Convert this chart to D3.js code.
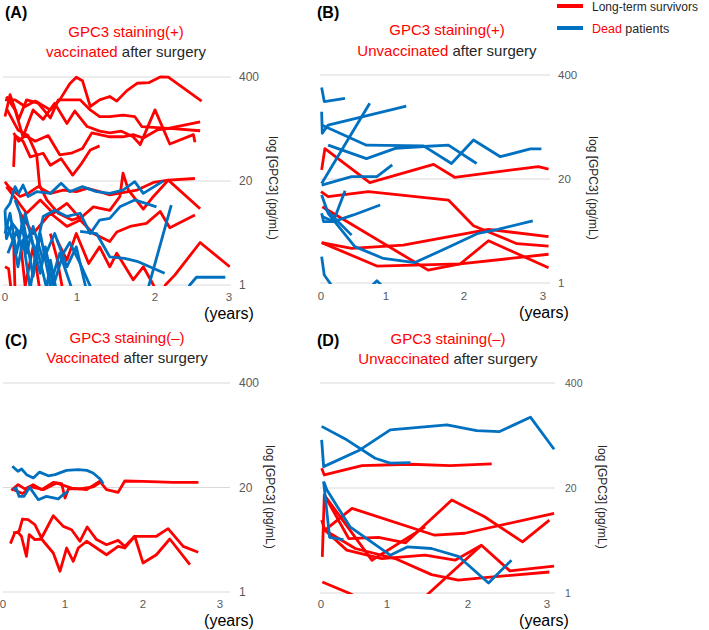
<!DOCTYPE html>
<html>
<head>
<meta charset="utf-8">
<script src="https://cdn.jsdelivr.net/npm/d3@7"></script>
<style>
  html, body { margin: 0; padding: 0; background: #ffffff; }
  svg { display: block; font-family: "Liberation Sans", Arial, sans-serif; }
</style>
</head>
<body>
<script>
// ---------------- DATA ----------------
const xTicks = [0, 1, 2, 3];
const yTicks = [1, 20, 400];
const panelLetters = ["(A)", "(B)", "(C)", "(D)"];
const titleLine1 = ["GPC3 staining(+)", "GPC3 staining(+)", "GPC3 staining(\u2013)", "GPC3 staining(\u2013)"];
const titleWord = ["vaccinated", "Unvaccinated", "Vaccinated", "Unvaccinated"];
const titleRest = " after surgery";
const yAxisTitle = "log [GPC3] (pg/mL)";
const xAxisTitle = "(years)";
const legendRed = "Long-term survivors";
const legendBlueWord = "Dead";
const legendBlueRest = " patients";

// series: [years after surgery, GPC3 pg/mL]
const A_red = [
  [[0,207],[0.14,207],[0.28,171],[0.42,200],[0.63,155],[0.76,207],[0.90,330],[0.99,398],[1.07,360],[1.17,171],[1.29,207],[1.42,228],[1.51,200],[1.64,270],[1.77,334],[1.92,340],[2.07,400],[2.18,398],[2.63,200]],
  [[0,128],[0.07,240],[0.19,118],[0.30,207],[0.46,188],[0.63,123],[0.74,207],[0.90,207],[1.04,207],[1.17,155],[1.29,128],[1.42,128],[1.59,133],[1.74,128],[1.83,96],[2.18,91],[2.61,110]],
  [[0.02,228],[0.14,155],[0.25,71.5],[0.39,155],[0.53,118],[0.69,188],[0.86,105],[0.97,150],[1.13,96],[1.29,84],[1.42,80],[1.57,84],[1.72,71.5],[1.81,57],[2.0,155],[2.20,58],[2.52,76],[2.54,61]],
  [[0.12,80],[0.19,63],[0.28,74],[0.42,63],[0.60,74],[0.76,42.5],[0.92,44.5],[1.07,51],[1.19,80],[1.42,71.5],[1.59,71.5],[1.72,76],[1.85,69],[2.03,87],[2.20,91],[2.61,85]],
  [[0.12,30],[0.14,74],[0.25,63],[0.35,40],[0.53,44.5],[0.63,31.5],[0.78,38],[0.94,23.7],[1.06,33.3],[1.17,48.8],[1.29,55]],
  [[0.03,155],[0.18,87],[0.32,74],[0.44,42.5],[0.48,17.8],[0.58,11.6],[0.74,7.9],[0.93,6.5],[1.07,7.2]],
  [[0,19.6],[0.05,17],[0.21,12.8],[0.32,14],[0.46,17],[0.63,14],[0.81,15.4],[0.99,14.7],[1.13,16.2],[1.29,14.7],[1.42,13.4],[1.77,15.4],[1.98,19.2],[2.18,20.5],[2.54,21.5]],
  [[0.02,17],[0.16,11.6],[0.30,7.9],[0.49,11.6],[0.67,7.9],[0.86,10.5],[1.04,6.8],[1.21,9.5],[1.42,8.6],[1.55,12.8],[1.59,25],[1.66,15.4],[1.85,8.9],[1.98,12.8],[2.18,20.5],[2.61,9.0]],
  [[0.21,7.9],[0.39,4.4],[0.63,7.9],[0.86,5.4],[1.04,6.5],[1.21,4.4],[1.42,3.5],[1.51,4.6],[1.68,5.4],[1.89,5.9],[2.07,8.3],[2.20,5.2],[2.54,7.5]],
  [[2.10,0.79],[2.14,1.0],[2.27,1.34],[2.61,3.4],[3.01,1.69]],
  [[0.72,3.66],[0.86,2.05],[0.99,4.4],[1.15,1.86],[1.29,3.0],[1.42,1.69],[1.51,2.5],[1.72,1.16],[1.85,1.69],[1.98,1.0],[2.02,0.8]],
  [[0,1.69],[0.05,1.6],[0.09,0.79]],
  [[0.12,3.4],[0.14,0.79]],
  [[0.21,3.66],[0.28,0.97],[0.39,3.0],[0.49,0.79]],
  [[0.63,4.4],[0.72,2.2],[0.81,0.79]]
];
const A_blue = [
  [[0,8.6],[0.07,10.5],[0.14,17],[0.19,14],[0.25,17.8],[0.32,12.8],[0.44,14.7],[0.63,14],[0.78,18.7],[0.90,14.7],[1.07,17],[1.25,14.7],[1.42,14],[1.59,15.4],[1.74,19.6],[1.85,14],[2.11,19.9]],
  [[0,8.6],[0.02,3.8],[0.10,5.9],[0.21,4.4],[0.28,7.9],[0.42,2.5],[0.53,7.2],[0.69,8.6],[0.86,7.2],[1.04,7.9],[1.17,4.4],[1.29,6.5],[1.42,6.8],[1.55,9.5],[1.74,11.6],[2.02,9.5]],
  [[0.02,5.9],[0.12,3.4],[0.18,1.69],[0.25,3.66],[0.35,0.9],[0.44,3.0],[0.58,0.9],[0.63,2.05],[0.72,0.79]],
  [[0.04,2.5],[0.16,4.7],[0.23,3.0],[0.35,4.4],[0.49,1.4],[0.56,3.0],[0.67,0.97],[0.81,2.5],[0.90,3.4],[1.04,1.86],[1.21,0.79]],
  [[0.14,11.6],[0.21,7.9],[0.30,2.5],[0.39,5.4],[0.53,2.05],[0.69,4.4],[0.86,1.69],[0.99,3.0],[1.13,0.79]],
  [[1.04,4.7],[1.25,4.4],[1.42,2.25],[1.61,2.15],[1.77,1.98],[2.13,1.4]],
  [[1.87,0.65],[2.22,10.0]],
  [[2.43,0.79],[2.47,1.0],[2.56,1.25],[2.95,1.25]],
  [[0,4.4],[0.07,7.9],[0.16,2.5],[0.25,6.5],[0.39,1.28],[0.49,4.4],[0.63,1.0],[0.76,2.5],[0.95,0.79]]
];
const B_red = [
  [[0.01,26],[0.06,48],[0.75,18],[1.61,30.5],[1.88,21],[2.94,28.6],[3.07,26.6]],
  [[0,13.9],[0.11,12.0],[0.73,13.9],[1.80,10.9],[2.12,5.2],[2.67,3.1],[3.07,2.9]],
  [[0.02,9.0],[1.54,1.45],[1.95,1.73],[2.31,3.38],[3.07,1.55]],
  [[0.01,3.2],[0.47,2.71],[1.22,2.98],[2.31,4.69],[3.07,3.8]],
  [[0.01,3.2],[0.86,1.63],[1.95,1.73],[3.07,2.29]]
];
const B_blue = [
  [[0.01,280],[0.05,186],[0.37,204]],
  [[0.01,139],[0.02,74.6],[0.11,94.6],[1.26,163]],
  [[0.01,17.6],[0.75,177]],
  [[0.01,94.6],[0.70,53],[1.48,52],[1.84,31.3],[2.12,61.5],[2.46,38],[2.84,47.5],[2.98,47.5]],
  [[0.11,53],[0.70,36],[1.12,48.4],[1.48,51],[1.80,53],[2.16,31.3]],
  [[0.01,16.8],[0.47,21.4],[0.86,21.4],[1.08,30]],
  [[0.01,12.6],[0.11,7.45],[0.52,2.85],[0.96,2.03],[1.37,1.80],[1.80,2.80],[2.18,4.19],[2.43,4.69],[2.87,6.0]],
  [[0.01,7.45],[0.04,5.86],[0.19,5.86],[0.37,14.3]],
  [[0.02,6.8],[0.19,5.86],[0.50,7.1],[0.91,9.46]],
  [[0.06,8.6],[0.47,3.97]],
  [[0.01,2.14],[0.05,1.26],[0.16,0.94],[0.32,0.75]],
  [[0.72,0.82],[0.86,1.07],[1.0,0.82]]
];
const C_red = [
  [[0.135,18.4],[0.243,21.7],[0.351,19.2],[0.486,21.7],[0.622,18.8],[0.811,23.2],[0.946,22.3],[1.0,14.8],[1.043,19.2],[1.19,19.2],[1.36,20.3],[1.47,23.9]],
  [[0.173,18.8],[0.314,16.8],[0.459,20.3],[0.649,18.8],[0.865,22.7],[1.085,19.7],[1.277,18.8],[1.447,23.9],[1.532,18.8],[1.681,17.4],[1.766,24.1],[2.0,23.9],[2.39,23.2],[2.72,23.2]],
  [[0.119,4.0],[0.189,5.43],[0.259,5.7],[0.314,8.1],[0.405,7.95],[0.514,6.9],[0.622,4.7],[0.811,8.9],[0.973,6.56],[1.085,5.96],[1.191,4.28],[1.285,6.45],[1.404,4.49],[1.532,3.88],[1.681,4.39],[1.766,3.7],[1.894,4.94],[2.0,4.94],[2.174,4.94],[2.326,6.14],[2.522,3.7],[2.717,3.12]],
  [[0.162,5.43],[0.243,5.53],[0.297,4.94],[0.378,2.78],[0.422,5.18],[0.514,4.49],[0.622,4.57],[0.811,3.06],[0.919,1.81],[1.021,3.53],[1.106,2.41],[1.17,3.53],[1.277,4.28],[1.404,3.53],[1.532,2.91],[1.681,3.7],[1.766,3.53],[1.894,4.94],[2.0,2.3],[2.174,2.91],[2.348,4.57],[2.609,2.19]]
];
const C_blue = [
  [[0.15,36.7],[0.24,31.8],[0.30,34],[0.38,28.9],[0.49,26.3],[0.59,31.1],[0.73,28],[0.84,28.9],[1.02,32.7],[1.17,33.4],[1.28,32.7],[1.36,30.3],[1.45,25.5],[1.49,22.3]],
  [[0.16,18.8],[0.21,19.7],[0.26,15.5],[0.34,15.5],[0.43,20.1],[0.57,14.1],[0.70,15.5],[0.89,14.4],[0.97,16.3],[1.04,17.9]]
];
const D_red = [
  [[0.01,35.1],[0.05,29],[0.62,37.8],[1.29,39.4],[1.78,37.8],[2.30,39.7]],
  [[0.05,16.4],[0.42,4.73],[0.87,4.88],[1.23,4.19],[1.80,14.2],[2.21,8.8],[2.69,4.3],[3.03,8.0]],
  [[0.02,2.8],[0.05,16.4],[0.77,2.55],[1.47,6.6]],
  [[0.01,8.0],[0.06,6.0],[0.47,11.2],[1.59,5.2],[1.96,5.5],[3.09,9.7]],
  [[0.06,6.0],[0.39,3.4],[0.92,2.67],[1.47,2.94],[1.84,2.55],[2.17,3.9]],
  [[0.06,6.0],[0.52,3.56],[1.10,2.67],[1.55,1.69],[1.88,1.44],[2.21,1.55],[3.03,1.82]],
  [[1.33,0.67],[2.17,3.9],[2.53,1.88],[3.09,2.15]],
  [[0.02,1.37],[0.42,1.0],[0.85,0.67]]
];
const D_blue = [
  [[0.01,116],[0.39,79],[0.82,46.7],[1.04,40.6],[1.29,41.3]],
  [[0.01,79],[0.04,36.8],[0.59,59.3],[1.04,105],[1.74,121],[2.11,103],[2.40,100],[2.79,151],[3.09,60.4]],
  [[0.04,24],[0.09,18.9],[0.44,6.6],[1.04,2.94],[1.25,3.72],[1.55,3.56],[1.88,2.85],[2.26,1.33],[2.55,2.55]],
  [[0.04,24],[0.13,4.88],[0.34,4.6]]
];

// ---------------- LAYOUT ----------------
const RED = "#ff0000", BLUE = "#0070c0", GRID = "#d9d9d9", TICK = "#595959", DARK = "#262626";
const panels = [
  { red: A_red, blue: A_blue, xr: [5, 77, 155, 229], yr: [285, 77], gx: [3, 231],
    letter: [5, 18], tx: 126, t1: 37, t2: 57, ytlX: 239, ytlSize: 12, ytitle: [273, 188],
    xtitle: [229, 319], xtickY: 301 },
  { red: B_red, blue: B_blue, xr: [321, 386, 464, 543], yr: [283, 75], gx: [320, 550],
    letter: [317, 18], tx: 447, t1: 35, t2: 56, ytlX: 558, ytlSize: 11.5, ytitle: [593, 188],
    xtitle: [544, 318], xtickY: 300 },
  { red: C_red, blue: C_blue, xr: [3, 65, 143, 220], yr: [592, 383], gx: [3, 230],
    letter: [5, 346], tx: 127, t1: 343, t2: 363, ytlX: 239, ytlSize: 12, ytitle: [270, 497],
    xtitle: [229, 626], xtickY: 608 },
  { red: D_red, blue: D_blue, xr: [321, 387, 468, 547], yr: [593, 383], gx: [320, 555],
    letter: [317, 346], tx: 448, t1: 344, t2: 364, ytlX: 565, ytlSize: 10.5, ytitle: [602, 497],
    xtitle: [544, 626], xtickY: 608 }
];

const svg = d3.select("body").append("svg").attr("width", 709).attr("height", 630);
svg.append("rect").attr("width", 709).attr("height", 630).attr("fill", "#fff");
const defs = svg.append("defs");

panels.forEach((p, i) => {
  const x = d3.scaleLinear().domain(xTicks).range(p.xr);
  const y = d3.scaleLog().domain([1, 400]).range(p.yr);
  const g = svg.append("g");

  // gridlines
  g.selectAll("line.grid").data(yTicks).enter().append("line")
    .attr("x1", p.gx[0]).attr("x2", p.gx[1])
    .attr("y1", d => y(d)).attr("y2", d => y(d))
    .attr("stroke", GRID).attr("stroke-width", 1);

  // y tick labels (right side)
  g.selectAll("text.ytl").data(yTicks).enter().append("text")
    .attr("x", p.ytlX).attr("y", d => y(d)).attr("dy", "0.35em")
    .attr("font-size", p.ytlSize).attr("fill", TICK).text(d => d);

  // x tick labels
  g.selectAll("text.xtl").data(xTicks).enter().append("text")
    .attr("x", d => x(d)).attr("y", p.xtickY).attr("text-anchor", "middle")
    .attr("font-size", 11.5).attr("fill", TICK).text(d => d);

  // clip
  const cid = "clip" + i;
  defs.append("clipPath").attr("id", cid).append("rect")
    .attr("x", p.gx[0] - 6).attr("y", y(400) - 40)
    .attr("width", p.gx[1] - p.gx[0] + 12).attr("height", y(1) - y(400) + 41);

  const line = d3.line().x(d => x(d[0])).y(d => y(d[1]));
  const lg = g.append("g").attr("clip-path", `url(#${cid})`);
  lg.selectAll("path.r").data(p.red).enter().append("path")
    .attr("d", line).attr("fill", "none").attr("stroke", RED)
    .attr("stroke-width", 2.8).attr("stroke-linejoin", "round").attr("stroke-linecap", "butt");
  lg.selectAll("path.b").data(p.blue).enter().append("path")
    .attr("d", line).attr("fill", "none").attr("stroke", BLUE)
    .attr("stroke-width", 2.8).attr("stroke-linejoin", "round").attr("stroke-linecap", "butt");

  // panel letter
  g.append("text").attr("x", p.letter[0]).attr("y", p.letter[1])
    .attr("font-size", 16).attr("font-weight", "bold").attr("fill", "#000").text(panelLetters[i]);

  // titles
  g.append("text").attr("x", p.tx).attr("y", p.t1).attr("text-anchor", "middle")
    .attr("font-size", 15).attr("fill", RED).text(titleLine1[i]);
  const t2 = g.append("text").attr("x", p.tx).attr("y", p.t2).attr("text-anchor", "middle")
    .attr("font-size", 15);
  t2.append("tspan").attr("fill", RED).text(titleWord[i]);
  t2.append("tspan").attr("fill", DARK).text(titleRest);

  // y axis title (rotated)
  g.append("text").attr("transform", `translate(${p.ytitle[0]},${p.ytitle[1]}) rotate(90)`)
    .attr("text-anchor", "middle").attr("dy", "0.35em")
    .attr("font-size", 12).attr("fill", DARK).text(yAxisTitle);

  // x axis title
  g.append("text").attr("x", p.xtitle[0]).attr("y", p.xtitle[1]).attr("text-anchor", "middle")
    .attr("font-size", 16).attr("fill", "#000").text(xAxisTitle);
});

// legend
const leg = svg.append("g");
leg.append("line").attr("x1", 557).attr("x2", 583).attr("y1", 6).attr("y2", 6)
  .attr("stroke", RED).attr("stroke-width", 4);
leg.append("text").attr("x", 592).attr("y", 11).attr("font-size", 12).attr("fill", DARK).text(legendRed);
leg.append("line").attr("x1", 557).attr("x2", 583).attr("y1", 28).attr("y2", 28)
  .attr("stroke", BLUE).attr("stroke-width", 4);
const lt = leg.append("text").attr("x", 592).attr("y", 32.5).attr("font-size", 12.5);
lt.append("tspan").attr("fill", RED).text(legendBlueWord);
lt.append("tspan").attr("fill", DARK).text(legendBlueRest);
</script>
</body>
</html>
